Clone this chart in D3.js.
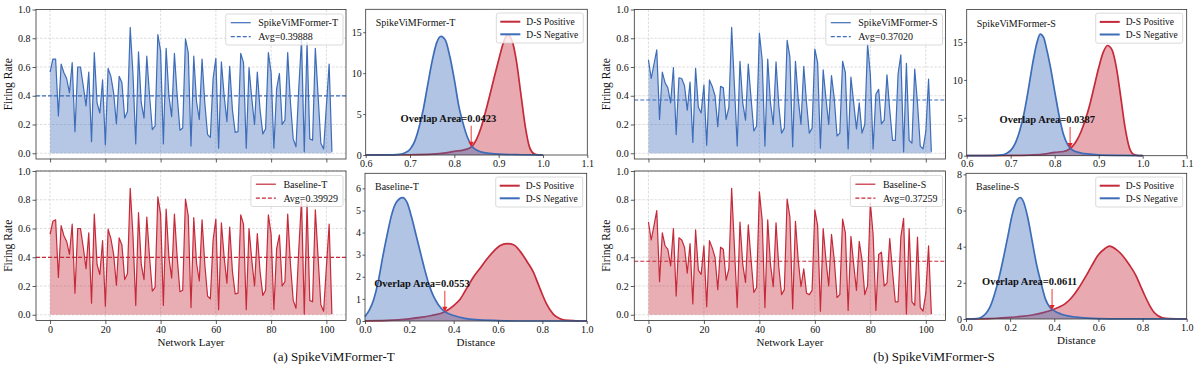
<!DOCTYPE html>
<html>
<head>
<meta charset="utf-8">
<script src="https://cdn.jsdelivr.net/npm/d3@7"></script>
<style>
  body { margin: 0; background: #fff; }
  svg, svg text { font-family: "Liberation Serif", "DejaVu Serif", serif; }
</style>
</head>
<body>
<svg id="chart" width="1196" height="365"></svg>
<script>
// ---- data ----
const spikeT = [0.565,0.655,0.655,0.26,0.62,0.56,0.52,0.42,0.63,0.15,
  0.60,0.60,0.47,0.33,0.565,0.08,0.70,0.35,0.28,0.51,
  0.06,0.59,0.535,0.42,0.205,0.535,0.49,0.245,0.29,0.875,
  0.55,0.065,0.705,0.35,0.245,0.675,0.40,0.165,0.19,0.825,
  0.71,0.065,0.73,0.40,0.255,0.695,0.40,0.16,0.175,0.795,
  0.70,0.05,0.675,0.36,0.235,0.655,0.35,0.13,0.11,0.52,
  0.66,0.035,0.635,0.40,0.22,0.605,0.30,0.145,0.15,0.695,
  0.63,0.035,0.595,0.38,0.20,0.565,0.30,0.135,0.17,0.70,
  0.56,0.035,0.45,0.555,0.20,0.23,0.70,0.35,0.10,0.045,
  0.45,0.79,0.01,0.77,0.10,0.09,0.73,0.40,0.07,0.03,0.33,0.62,0.01];
const baseT = [0.56,0.65,0.66,0.26,0.62,0.55,0.51,0.42,0.63,0.15,
  0.60,0.60,0.47,0.32,0.57,0.08,0.70,0.35,0.28,0.515,
  0.06,0.595,0.53,0.42,0.205,0.535,0.485,0.245,0.285,0.88,
  0.55,0.065,0.71,0.35,0.245,0.68,0.40,0.165,0.19,0.82,
  0.70,0.065,0.735,0.40,0.255,0.70,0.40,0.16,0.17,0.805,
  0.69,0.05,0.675,0.36,0.235,0.66,0.35,0.13,0.11,0.52,
  0.665,0.035,0.64,0.40,0.22,0.61,0.30,0.145,0.15,0.695,
  0.63,0.035,0.60,0.38,0.20,0.565,0.30,0.135,0.17,0.695,
  0.56,0.035,0.46,0.555,0.20,0.23,0.70,0.35,0.10,0.045,
  0.45,0.80,0.005,0.77,0.10,0.09,0.73,0.40,0.07,0.025,0.33,0.63,0.005];
const spikeS = [0.65,0.52,0.62,0.72,0.235,0.565,0.49,0.455,0.35,0.595,
  0.13,0.525,0.52,0.47,0.30,0.495,0.075,0.59,0.32,0.28,
  0.475,0.055,0.51,0.465,0.40,0.185,0.465,0.455,0.235,0.32,
  0.875,0.47,0.05,0.64,0.35,0.23,0.62,0.38,0.155,0.19,
  0.835,0.65,0.05,0.655,0.35,0.20,0.635,0.33,0.14,0.175,
  0.785,0.67,0.045,0.64,0.38,0.20,0.605,0.35,0.14,0.175,
  0.725,0.63,0.035,0.58,0.38,0.20,0.54,0.38,0.12,0.14,
  0.64,0.56,0.03,0.53,0.35,0.17,0.35,0.14,0.20,0.76,
  0.55,0.03,0.41,0.445,0.205,0.23,0.545,0.30,0.09,0.09,
  0.55,0.685,0.01,0.625,0.09,0.07,0.585,0.35,0.05,0.03,0.15,0.515,0.01];
const baseS = [0.645,0.52,0.62,0.725,0.23,0.57,0.48,0.455,0.34,0.60,
  0.13,0.535,0.52,0.47,0.29,0.495,0.075,0.59,0.31,0.28,
  0.48,0.055,0.515,0.465,0.40,0.175,0.47,0.455,0.24,0.32,
  0.88,0.47,0.05,0.645,0.35,0.225,0.625,0.38,0.155,0.19,
  0.855,0.66,0.05,0.66,0.35,0.195,0.64,0.33,0.14,0.175,
  0.805,0.68,0.04,0.65,0.38,0.195,0.32,0.15,0.14,0.17,
  0.73,0.62,0.025,0.60,0.38,0.20,0.56,0.38,0.12,0.14,
  0.665,0.57,0.03,0.545,0.35,0.17,0.51,0.38,0.14,0.20,
  0.78,0.56,0.03,0.42,0.435,0.20,0.22,0.53,0.30,0.09,
  0.09,0.54,0.67,0.005,0.60,0.09,0.065,0.54,0.05,0.025,0.15,0.48,0.005];

const avgSpikeT = 0.39888, avgBaseT = 0.39929;
const avgSpikeS = 0.37020, avgBaseS = 0.37259;

// density curves: [distance, density]
const posSpikeT = [[0.60,0],[0.70,0.03],[0.75,0.1],[0.78,0.25],[0.80,0.45],[0.82,0.6],[0.83,0.75],[0.84,1.05],
  [0.85,1.9],[0.86,3.3],[0.87,5.2],[0.88,7.3],[0.89,9.5],[0.90,11.6],[0.91,13.6],[0.92,14.7],[0.93,14.0],
  [0.94,11.5],[0.95,7.5],[0.96,3.5],[0.97,0.9],[0.98,0.15],[0.99,0.02],[1.0,0]];
const negSpikeT = [[0.60,0],[0.66,0.01],[0.68,0.1],[0.69,0.3],[0.70,0.7],[0.71,1.6],[0.72,3.3],[0.73,5.6],
  [0.74,8.6],[0.75,11.5],[0.76,13.7],[0.77,14.5],[0.78,14.0],[0.79,12.0],[0.80,9.2],[0.81,6.0],[0.82,3.8],
  [0.83,2.1],[0.84,1.05],[0.85,0.6],[0.86,0.38],[0.88,0.2],[0.90,0.1],[0.95,0.03],[1.0,0]];
const posBaseT = [[0.0,0.01],[0.1,0.03],[0.2,0.1],[0.25,0.16],[0.3,0.25],[0.36,0.42],[0.40,0.7],[0.43,1.0],
  [0.46,1.5],[0.49,2.0],[0.52,2.4],[0.55,2.8],[0.58,3.15],[0.61,3.42],[0.64,3.5],[0.67,3.45],[0.70,3.15],
  [0.73,2.7],[0.76,2.2],[0.78,1.7],[0.80,1.2],[0.82,0.75],[0.85,0.3],[0.88,0.1],[0.90,0.04],[0.95,0.01],[1.0,0]];
const negBaseT = [[0.00,0.2],[0.02,0.5],[0.04,1.0],[0.06,1.8],[0.08,2.9],[0.10,3.9],[0.12,4.8],[0.14,5.35],
  [0.17,5.58],[0.19,5.35],[0.21,4.7],[0.23,3.9],[0.25,3.1],[0.27,2.3],[0.29,1.6],[0.31,1.1],[0.33,0.75],
  [0.36,0.42],[0.40,0.25],[0.45,0.12],[0.50,0.06],[0.60,0.02],[0.70,0.0],[1.0,0]];
const posSpikeS = [[0.60,0],[0.70,0.03],[0.75,0.1],[0.78,0.25],[0.80,0.45],[0.82,0.55],[0.83,0.75],[0.84,1.2],
  [0.85,2.0],[0.86,3.2],[0.87,4.8],[0.88,6.8],[0.89,9.2],[0.90,11.6],[0.91,13.6],[0.92,14.55],[0.93,14.0],
  [0.94,11.7],[0.95,7.8],[0.96,3.7],[0.97,1.0],[0.98,0.15],[0.99,0.02],[1.0,0]];
const negSpikeS = [[0.60,0],[0.66,0.01],[0.68,0.1],[0.69,0.3],[0.70,0.7],[0.71,1.6],[0.72,3.2],[0.73,5.5],
  [0.74,8.7],[0.75,12.2],[0.76,15.0],[0.767,16.05],[0.775,15.6],[0.78,14.5],[0.79,11.8],[0.80,8.5],
  [0.81,5.3],[0.82,2.8],[0.83,1.4],[0.84,0.75],[0.86,0.35],[0.88,0.2],[0.90,0.1],[0.95,0.03],[1.0,0]];
const posBaseS = [[0.0,0.01],[0.1,0.02],[0.15,0.05],[0.2,0.09],[0.25,0.14],[0.3,0.22],[0.35,0.35],[0.39,0.5],
  [0.42,0.65],[0.45,0.85],[0.48,1.2],[0.51,1.7],[0.54,2.3],[0.57,2.95],[0.60,3.55],[0.63,3.9],[0.65,4.03],
  [0.68,3.85],[0.71,3.5],[0.74,3.0],[0.77,2.4],[0.79,1.85],[0.81,1.3],[0.83,0.8],[0.85,0.4],[0.87,0.18],
  [0.89,0.07],[0.92,0.02],[1.0,0]];
const negBaseS = [[0.0,0],[0.05,0.02],[0.07,0.1],[0.09,0.3],[0.11,0.7],[0.13,1.4],[0.15,2.3],[0.17,3.4],
  [0.19,4.6],[0.21,5.8],[0.23,6.55],[0.245,6.72],[0.26,6.5],[0.28,5.6],[0.30,4.3],[0.32,3.0],[0.34,2.0],
  [0.36,1.1],[0.38,0.65],[0.40,0.45],[0.43,0.28],[0.46,0.17],[0.50,0.1],[0.55,0.05],[0.65,0.01],[1.0,0]];

const overlapSpikeT = { x: 0.838, y: 1.0, label: "Overlap Area=0.0423" };
const overlapBaseT = { x: 0.36, y: 0.42, label: "Overlap Area=0.0553" };
const overlapSpikeS = { x: 0.835, y: 1.0, label: "Overlap Area=0.0387" };
const overlapBaseS = { x: 0.39, y: 0.5, label: "Overlap Area=0.0611" };

const layerTicks = [0, 20, 40, 60, 80, 100];
const rateTicks = [0, 0.2, 0.4, 0.6, 0.8, 1.0];

// ---- styling ----
const BLUE = "#3d6cb9", RED = "#c52a3a", AXIS = "#333";
const SERIF = "'Liberation Serif', 'DejaVu Serif', serif";
const svg = d3.select("#chart").attr("font-family", SERIF);

function txt(g) {
  return g.append("text").attr("font-family", SERIF).attr("fill", "#111");
}

function frame(g, b) {
  g.append("rect").attr("x", b.x0).attr("y", b.y0)
    .attr("width", b.x1 - b.x0).attr("height", b.y1 - b.y0)
    .attr("fill", "none").attr("stroke", AXIS).attr("stroke-width", 0.8);
}

function styleAxis(a, fs) {
  a.attr("font-family", SERIF);
  a.select(".domain").remove();
  a.selectAll(".tick line").attr("stroke", AXIS).attr("stroke-width", 0.8);
  a.selectAll(".tick text").attr("fill", "#111").attr("font-size", fs)
    .attr("font-family", SERIF);
}

function legend(g, right, top, items, o) {
  const lg = g.append("g");
  const box = lg.append("rect");
  const texts = items.map((d, i) => txt(lg)
    .attr("font-size", o.fs)
    .attr("y", top + o.row0 + i * o.rowH).attr("dy", "0.35em").text(d.label));
  const tw = d3.max(texts, t => t.node().getComputedTextLength());
  const w = o.textX + tw + 5;
  const left = right - w;
  box.attr("x", left).attr("y", top).attr("width", w).attr("height", o.h)
    .attr("rx", 2).attr("fill", "#fff").attr("fill-opacity", 0.8)
    .attr("stroke", "#d0d0d0").attr("stroke-width", 0.8);
  texts.forEach(t => t.attr("x", left + o.textX));
  items.forEach((d, i) => {
    lg.append("line").attr("x1", left + o.lineX).attr("x2", left + o.lineX + 20)
      .attr("y1", top + o.row0 + i * o.rowH).attr("y2", top + o.row0 + i * o.rowH)
      .attr("stroke", d.color).attr("stroke-width", o.lw)
      .attr("stroke-dasharray", d.dash ? "4,2" : null);
  });
}

function linePanel(b, values, avg, name, col, showX) {
  const g = svg.append("g");
  const x = d3.scaleLinear().domain([-5.1, 107.1]).range([b.x0, b.x1]);
  const y = d3.scaleLinear().domain([-0.04, 1.0]).range([b.y1, b.y0]);

  // grid
  g.append("g").selectAll("line").data(layerTicks).join("line")
    .attr("x1", d => x(d)).attr("x2", d => x(d)).attr("y1", b.y0).attr("y2", b.y1)
    .attr("stroke", "#cfcfcf").attr("stroke-width", 0.7).attr("stroke-dasharray", "2.5,1.5");
  g.append("g").selectAll("line").data(rateTicks).join("line")
    .attr("x1", b.x0).attr("x2", b.x1).attr("y1", d => y(d)).attr("y2", d => y(d))
    .attr("stroke", "#cfcfcf").attr("stroke-width", 0.7).attr("stroke-dasharray", "2.5,1.5");

  const area = d3.area().x((d, i) => x(i)).y0(y(0)).y1(d => y(d));
  const line = d3.line().x((d, i) => x(i)).y(d => y(d));
  g.append("path").datum(values).attr("d", area).attr("fill", col).attr("fill-opacity", 0.38);
  g.append("path").datum(values).attr("d", line).attr("fill", "none")
    .attr("stroke", col).attr("stroke-width", 1.2).attr("stroke-linejoin", "round");
  g.append("line").attr("x1", b.x0).attr("x2", b.x1).attr("y1", y(avg)).attr("y2", y(avg))
    .attr("stroke", col).attr("stroke-width", 1.1).attr("stroke-dasharray", "4,2");

  const ax = g.append("g").attr("transform", `translate(0,${b.y1})`)
    .call(d3.axisBottom(x).tickValues(layerTicks).tickSize(3.5).tickPadding(2)
      .tickFormat(showX ? d3.format("d") : () => ""));
  styleAxis(ax, 10);
  const ay = g.append("g").attr("transform", `translate(${b.x0},0)`)
    .call(d3.axisLeft(y).tickValues(rateTicks).tickSize(3.5).tickPadding(2).tickFormat(d3.format(".1f")));
  styleAxis(ay, 10);
  frame(g, b);

  txt(g).attr("transform", `translate(${b.x0 - 24},${(b.y0 + b.y1) / 2}) rotate(-90)`)
    .attr("text-anchor", "middle").attr("font-size", 11.5).text("Firing Rate");
  if (showX) {
    txt(g).attr("x", (b.x0 + b.x1) / 2).attr("y", b.y1 + 25)
      .attr("text-anchor", "middle").attr("font-size", 11).text("Network Layer");
  }
  legend(g, b.x1 - 3, b.y0 + 4.5, [
    { label: name, color: col },
    { label: "Avg=" + avg.toFixed(5), color: col, dash: true }
  ], { fs: 10, row0: 8.7, rowH: 14, h: 31, lineX: 5, textX: 32.5, lw: 1.2 });
}

function densityPanel(b, xDom, yMax, xTicks, yTicks, pos, neg, title, ov, showX) {
  const g = svg.append("g");
  const x = d3.scaleLinear().domain(xDom).range([b.x0, b.x1]);
  const y = d3.scaleLinear().domain([0, yMax]).range([b.y1, b.y0]);
  const area = d3.area().x(d => x(d[0])).y0(y(0)).y1(d => y(d[1])).curve(d3.curveMonotoneX);
  const line = d3.line().x(d => x(d[0])).y(d => y(d[1])).curve(d3.curveMonotoneX);

  [[pos, RED], [neg, BLUE]].forEach(([data, col]) => {
    g.append("path").datum(data).attr("d", area).attr("fill", col).attr("fill-opacity", 0.4);
    g.append("path").datum(data).attr("d", line).attr("fill", "none")
      .attr("stroke", col).attr("stroke-width", 1.7);
  });

  const ax = g.append("g").attr("transform", `translate(0,${b.y1})`)
    .call(d3.axisBottom(x).tickValues(xTicks).tickSize(3).tickPadding(1.5).tickFormat(d3.format(".1f")));
  styleAxis(ax, 10);
  const ay = g.append("g").attr("transform", `translate(${b.x0},0)`)
    .call(d3.axisLeft(y).tickValues(yTicks).tickSize(2.5).tickPadding(1.5).tickFormat(d3.format("d")));
  styleAxis(ay, 10);
  frame(g, b);

  txt(g).attr("x", b.x0 + 10).attr("y", b.y0 + 17)
    .attr("font-size", 10).text(title);
  if (showX) {
    txt(g).attr("x", (b.x0 + b.x1) / 2).attr("y", b.y1 + 25)
      .attr("text-anchor", "middle").attr("font-size", 11).text("Distance");
  }

  // overlap annotation
  const px = x(ov.x), py = y(ov.y);
  g.append("line").attr("x1", px).attr("x2", px).attr("y1", py - 21).attr("y2", py - 4)
    .attr("stroke", "#f04848").attr("stroke-width", 1.1);
  g.append("path").attr("d", `M${px - 2.6},${py - 5}L${px + 2.6},${py - 5}L${px},${py}Z`)
    .attr("fill", "#e82020");
  txt(g).attr("x", px + 25).attr("y", py - 25).attr("text-anchor", "end")
    .attr("font-size", 10.5).attr("font-weight", "bold").text(ov.label);

  legend(g, b.x1 - 4, b.y0 + 3.7, [
    { label: "D-S Positive", color: RED },
    { label: "D-S Negative", color: BLUE }
  ], { fs: 9.5, row0: 8.7, rowH: 12.6, h: 30, lineX: 4, textX: 30, lw: 2 });
}

// ---- panels ----
linePanel({ x0: 36, x1: 346, y0: 9.5, y1: 159 }, spikeT, avgSpikeT, "SpikeViMFormer-T", BLUE, false);
linePanel({ x0: 36, x1: 346, y0: 171, y1: 320.5 }, baseT, avgBaseT, "Baseline-T", RED, true);
linePanel({ x0: 634.3, x1: 945.5, y0: 9.5, y1: 159 }, spikeS, avgSpikeS, "SpikeViMFormer-S", BLUE, false);
linePanel({ x0: 634.3, x1: 945.5, y0: 171, y1: 320.5 }, baseS, avgBaseS, "Baseline-S", RED, true);

const ticksNarrow = [0.6, 0.7, 0.8, 0.9, 1.0, 1.1];
const ticksWide = [0, 0.2, 0.4, 0.6, 0.8, 1.0];
densityPanel({ x0: 365.7, x1: 587.3, y0: 9.3, y1: 155 }, [0.6, 1.1], 17.8, ticksNarrow, [0, 5, 10, 15],
  posSpikeT, negSpikeT, "SpikeViMFormer-T", overlapSpikeT, false);
densityPanel({ x0: 365, x1: 586.7, y0: 173.3, y1: 321 }, [0, 1], 6.68, ticksWide, [0, 1, 2, 3, 4, 5, 6],
  posBaseT, negBaseT, "Baseline-T", overlapBaseT, true);
densityPanel({ x0: 966.7, x1: 1186.7, y0: 9.5, y1: 155.7 }, [0.6, 1.1], 19.3, ticksNarrow, [0, 5, 10, 15],
  posSpikeS, negSpikeS, "SpikeViMFormer-S", overlapSpikeS, false);
densityPanel({ x0: 966, x1: 1186.7, y0: 173.3, y1: 319 }, [0, 1], 8.06, ticksWide, [0, 2, 4, 6, 8],
  posBaseS, negBaseS, "Baseline-S", overlapBaseS, true);

// captions
txt(svg).attr("x", 334).attr("y", 361).attr("text-anchor", "middle")
  .attr("font-size", 13).text("(a) SpikeViMFormer-T");
txt(svg).attr("x", 934).attr("y", 361).attr("text-anchor", "middle")
  .attr("font-size", 13).text("(b) SpikeViMFormer-S");
</script>
</body>
</html>
